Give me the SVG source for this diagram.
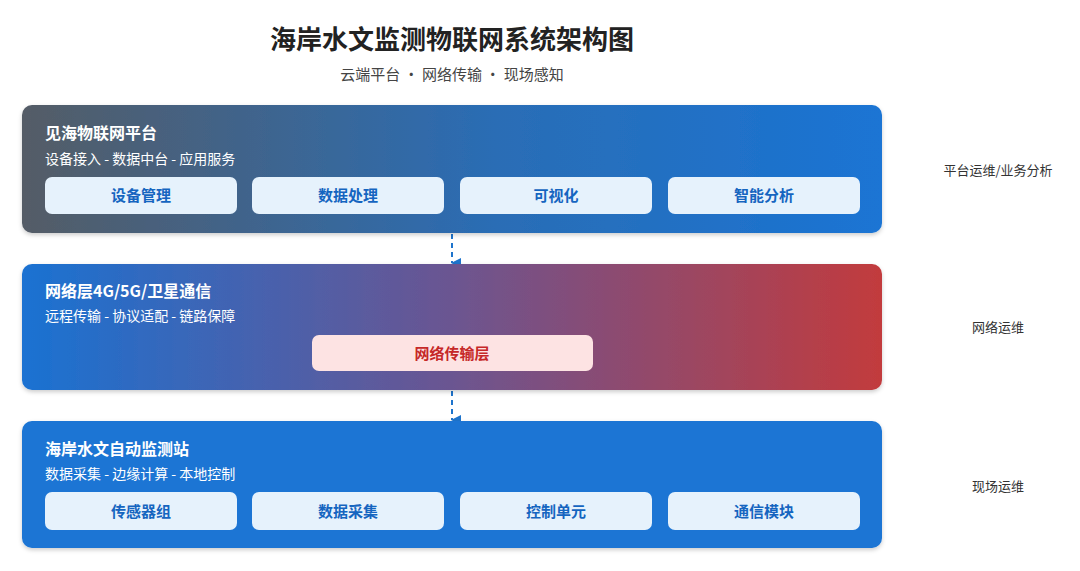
<svg xmlns="http://www.w3.org/2000/svg" width="1080" height="571" viewBox="0 0 1080 571">
<defs>
<linearGradient id="g1" x1="0" y1="0" x2="1" y2="0"><stop offset="0" stop-color="#545c66"/><stop offset="0.55" stop-color="#2a6db5"/><stop offset="1" stop-color="#1a74d4"/></linearGradient>
<linearGradient id="g2" x1="0" y1="0" x2="1" y2="0"><stop offset="0" stop-color="#1a72d2"/><stop offset="0.5" stop-color="#6b5591"/><stop offset="1" stop-color="#c23b3d"/></linearGradient>
<marker id="ah" markerWidth="10" markerHeight="10" refX="5" refY="9" orient="auto" markerUnits="userSpaceOnUse"><path d="M0,0 L10,0 L5,10 Z" fill="#1e74cc"/></marker>
<filter id="sh" x="-5%" y="-10%" width="110%" height="130%"><feDropShadow dx="0" dy="2" stdDeviation="2" flood-opacity="0.2"/></filter>
</defs>
<style>
text{font-family:"Noto Sans CJK SC","Noto Sans",sans-serif}
.t{font-size:26px;font-weight:bold;fill:#222}
.st{font-size:15px;fill:#444}
.h{font-size:16px;font-weight:bold;fill:#fff}
.d{font-size:14px;fill:#fff}
.sb{fill:#e6f2fc}
.sl{font-size:15px;font-weight:bold;fill:#1565c0;text-anchor:middle}
.r{font-size:13px;fill:#333;text-anchor:middle}
.c{stroke:#1e74cc;stroke-width:2;stroke-dasharray:5,4;fill:none}
</style>
<rect width="1080" height="571" fill="#fff"/>
<text class="t" x="452" y="49" text-anchor="middle">海岸水文监测物联网系统架构图</text>
<text class="st" x="452" y="80" text-anchor="middle">云端平台 • 网络传输 • 现场感知</text>
<g id="connectors">
<path class="c" d="M452,234 V263" marker-end="url(#ah)"/>
<path class="c" d="M452,391 V420" marker-end="url(#ah)"/>
</g>
<g id="platform">
<rect x="22" y="105" width="860" height="128" rx="10" fill="url(#g1)" filter="url(#sh)"/>
<text class="h" x="45" y="139">见海物联网平台</text>
<text class="d" x="45" y="164">设备接入 - 数据中台 - 应用服务</text>
<g id="p1"><rect class="sb" x="45" y="177" width="192" height="37" rx="7"/><text class="sl" x="141" y="201">设备管理</text></g>
<g id="p2"><rect class="sb" x="252" y="177" width="192" height="37" rx="7"/><text class="sl" x="348" y="201">数据处理</text></g>
<g id="p3"><rect class="sb" x="460" y="177" width="192" height="37" rx="7"/><text class="sl" x="556" y="201">可视化</text></g>
<g id="p4"><rect class="sb" x="668" y="177" width="192" height="37" rx="7"/><text class="sl" x="764" y="201">智能分析</text></g>
</g>
<g id="network">
<rect x="22" y="264" width="860" height="126" rx="10" fill="url(#g2)" filter="url(#sh)"/>
<text class="h" x="45" y="297">网络层4G/5G/卫星通信</text>
<text class="d" x="45" y="321">远程传输 - 协议适配 - 链路保障</text>
<g id="n1"><rect x="312" y="335" width="281" height="36" rx="7" fill="#fde3e3"/><text class="sl" x="452" y="359" style="fill:#c62828">网络传输层</text></g>
</g>
<g id="station">
<rect x="22" y="421" width="860" height="127" rx="10" fill="#1a74d4" filter="url(#sh)"/>
<text class="h" x="45" y="455">海岸水文自动监测站</text>
<text class="d" x="45" y="479">数据采集 - 边缘计算 - 本地控制</text>
<g id="s1"><rect class="sb" x="45" y="492" width="192" height="38" rx="7"/><text class="sl" x="141" y="517">传感器组</text></g>
<g id="s2"><rect class="sb" x="252" y="492" width="192" height="38" rx="7"/><text class="sl" x="348" y="517">数据采集</text></g>
<g id="s3"><rect class="sb" x="460" y="492" width="192" height="38" rx="7"/><text class="sl" x="556" y="517">控制单元</text></g>
<g id="s4"><rect class="sb" x="668" y="492" width="192" height="38" rx="7"/><text class="sl" x="764" y="517">通信模块</text></g>
</g>
<g id="labels">
<text class="r" x="998" y="175">平台运维/业务分析</text>
<text class="r" x="998" y="332">网络运维</text>
<text class="r" x="998" y="491">现场运维</text>
</g>
</svg>
